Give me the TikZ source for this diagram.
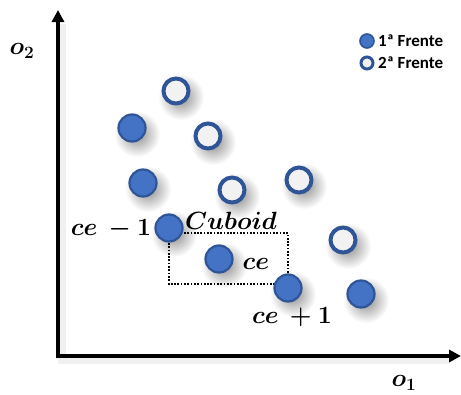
\documentclass[tikz,border=0pt]{standalone}
\usepackage{fontspec}
\newfontfamily\legendfont{Carlito}
\usetikzlibrary{arrows.meta,fadings}
\definecolor{frontfill}{HTML}{4472C4}
\definecolor{frontedge}{HTML}{2F5597}
\definecolor{hollowfill}{HTML}{F2F2F2}
\tikzfading[name=softshadow, inner color=transparent!55, outer color=transparent!100]
\tikzset{
  front1/.style={circle, minimum size=27pt, inner sep=0pt, fill=frontfill,
    draw=frontedge, line width=2.2pt},
  front2/.style={circle, minimum size=25pt, inner sep=0pt, fill=hollowfill,
    draw=frontedge, line width=4pt},
  dropshadow/.style={fill=black, path fading=softshadow},
  axis/.style={line width=4pt, -{Triangle[length=12pt,width=12pt]}},
  axisshadow/.style={line width=8pt, draw=black, opacity=0.06},
  cuboidbox/.style={line width=1.7pt, dash pattern=on 1.7pt off 1.6pt},
  mathlabel/.style={font=\fontsize{23}{27}\selectfont\boldmath, inner sep=0pt},
  legendtext/.style={font=\legendfont\bfseries\fontsize{17}{20}\selectfont, anchor=west, inner sep=0pt}
}
\begin{document}
\begin{tikzpicture}[x=1pt,y=-1pt]
\useasboundingbox (0,0) rectangle (461,394);
\fill[white] (0,0) rectangle (461,394);

% positions of the points of both fronts
\coordinate (p-s1) at (176,91);
\coordinate (p-s2) at (208,136);
\coordinate (p-s3) at (232,190);
\coordinate (p-s4) at (299,180);
\coordinate (p-s5) at (343,240);
\coordinate (p-f1) at (132,128);
\coordinate (p-f2) at (143,183);
\coordinate (p-cem) at (169,228);
\coordinate (p-ce) at (219,259);
\coordinate (p-cep) at (288,288);
\coordinate (p-f6) at (361,294);

% soft drop shadows under the points
\foreach \p in {s1,s2,s3,s4,s5,f1,f2,cem,ce,cep,f6}
  \fill[dropshadow] ([shift={(5,6)}]p-\p) circle (23pt);

% axes, with a faint soft shadow
\coordinate (origin) at (58,356);
\coordinate (ytip) at (58,10);
\coordinate (xtip) at (461,356);
\coordinate (ysh) at (62,24);
\coordinate (xsh) at (450,360);
\draw[axisshadow] (ysh) -- ([shift={(4,4)}]origin) -- (xsh);
\draw[axis] ([yshift=-2pt]origin) -- (ytip);
\draw[axis] ([xshift=-2pt]origin) -- (xtip);
\node[mathlabel] (o2) at (22,51) {$o_2$};
\node[mathlabel] (o1) at (404,383) {$o_1$};

% cuboid spanned by the neighbours ce-1 and ce+1
\coordinate (boxtl) at (169,233);
\coordinate (boxbr) at (288,284);
\draw[cuboidbox] (boxtl) rectangle (boxbr);

% second front (hollow)
\foreach \p in {s1,s2,s3,s4,s5}
  \node[front2] (\p) at (p-\p) {};

% first front (filled)
\foreach \p in {f1,f2,cem,ce,cep,f6}
  \node[front1] (\p) at (p-\p) {};

% labels
\node[mathlabel] (lcem) at (111,229) {$ce\,-1$};
\node[mathlabel] (lcub) at (231,221) {$Cuboid$};
\node[mathlabel] (lce) at (256,264) {$ce$};
\node[mathlabel] (lcep) at (292,317) {$ce\,+1$};

% legend
\node[circle, minimum size=14pt, inner sep=0pt, fill=frontfill, draw=frontedge, line width=1.6pt] (k1) at (367,41) {};
\node[circle, minimum size=12pt, inner sep=0pt, fill=hollowfill, draw=frontedge, line width=3pt] (k2) at (367,63) {};
\node[legendtext] (t1) at (378,41) {1ª Frente};
\node[legendtext] (t2) at (378,63) {2ª Frente};
\end{tikzpicture}
\end{document}
